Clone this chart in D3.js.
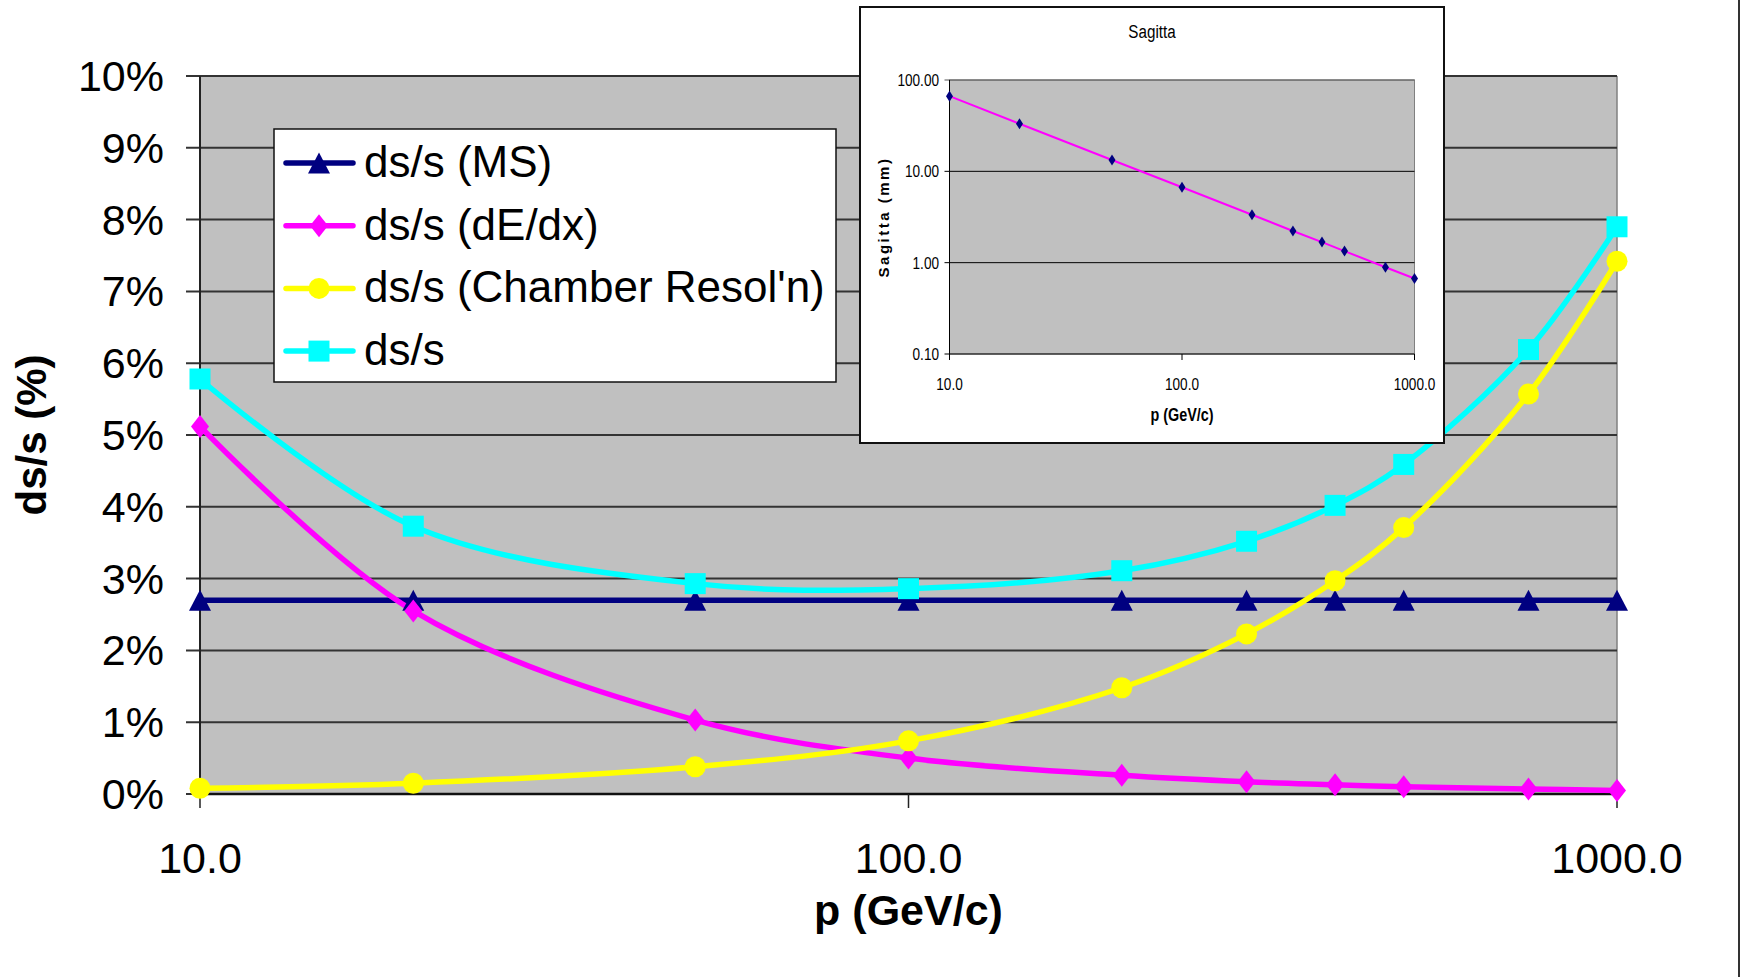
<!DOCTYPE html>
<html>
<head>
<meta charset="utf-8">
<script src="https://cdn.jsdelivr.net/npm/d3@7"></script>
<style>
  html, body { margin: 0; padding: 0; background: #ffffff; }
  svg { display: block; font-family: "Liberation Sans", Arial, sans-serif; }
</style>
</head>
<body>
<div id="chart_container"></div>
<script>
// -- DATA -- // values, momentum in GeV/c, resolutions in %
const momentum = [10, 20, 50, 100, 200, 300, 400, 500, 750, 1000];
const dsMS = [2.7, 2.7, 2.7, 2.7, 2.7, 2.7, 2.7, 2.7, 2.7, 2.7];
const dsdEdx = [5.12, 2.55, 1.03, 0.5, 0.26, 0.17, 0.13, 0.1, 0.07, 0.05];
const dsChamber = [0.08, 0.15, 0.38, 0.74, 1.48, 2.23, 2.97, 3.71, 5.57, 7.42];
const dsTotal = [5.78, 3.73, 2.93, 2.86, 3.11, 3.52, 4.02, 4.59, 6.19, 7.9];
// inset: sagitta in mm
const sagitta = [66.5, 33.2, 13.3, 6.7, 3.35, 2.22, 1.68, 1.34, 0.89, 0.67];

const seriesNames = ["ds/s (MS)", "ds/s (dE/dx)", "ds/s (Chamber Resol'n)", "ds/s"];
const yTicks = [0, 1, 2, 3, 4, 5, 6, 7, 8, 9, 10];
const xTicks = [10, 100, 1000];
const insetYTicks = [0.1, 1, 10, 100];

const series = [
  { name: seriesNames[0], values: dsMS, color: "#000080", marker: "triangle" },
  { name: seriesNames[1], values: dsdEdx, color: "#ff00ff", marker: "diamond" },
  { name: seriesNames[2], values: dsChamber, color: "#ffff00", marker: "circle" },
  { name: seriesNames[3], values: dsTotal, color: "#00ffff", marker: "square" },
];

const width = 1742;
const height = 977;

const svg = d3
  .select("#chart_container")
  .append("svg")
  .attr("width", width)
  .attr("height", height);

svg.append("rect").attr("width", width).attr("height", height).attr("fill", "white");

// -- UTILITY FUNCTIONS -- //

// marker path centred on 0,0
function markerPath(type, w, h) {
  if (type === "triangle") {
    return `M0,${-h / 2}L${w / 2},${h / 2}L${-w / 2},${h / 2}Z`;
  }
  if (type === "diamond") {
    return `M0,${-h / 2}L${w / 2},0L0,${h / 2}L${-w / 2},0Z`;
  }
  if (type === "square") {
    return `M${-w / 2},${-h / 2}h${w}v${h}h${-w}Z`;
  }
  // circle
  return d3.symbol(d3.symbolCircle, Math.PI * (w / 2) * (w / 2))();
}

function markerSize(type) {
  if (type === "diamond") return [18, 23];
  if (type === "triangle") return [22, 21];
  return [21, 21];
}

// narrow text for the small chart (it was drawn with a condensed font)
function narrowText(parent, x, y, txt, size, anchor, bold) {
  return parent
    .append("text")
    .attr("transform", `translate(${x},${y}) scale(0.8,1)`)
    .attr("text-anchor", anchor)
    .style("font-size", size + "px")
    .style("font-weight", bold ? "bold" : "normal")
    .text(txt);
}

// -- MAIN CHART -- //
const x = d3.scaleLog().domain([10, 1000]).range([200, 1617]);
const y = d3.scaleLinear().domain([0, 10]).range([794, 76]);

// grey plot area
svg
  .append("rect")
  .attr("x", x(10))
  .attr("y", y(10))
  .attr("width", x(1000) - x(10))
  .attr("height", y(0) - y(10))
  .attr("fill", "#c0c0c0");

// right border of plot area
svg
  .append("line")
  .attr("x1", x(1000))
  .attr("x2", x(1000))
  .attr("y1", y(10))
  .attr("y2", y(0))
  .attr("stroke", "#808080")
  .attr("stroke-width", 1.5);

// horizontal gridlines and left ticks
svg
  .selectAll(".grid")
  .data(yTicks)
  .enter()
  .append("line")
  .attr("class", "grid")
  .attr("x1", x(10) - 14)
  .attr("x2", x(1000))
  .attr("y1", (d) => y(d))
  .attr("y2", (d) => y(d))
  .attr("stroke", "#333")
  .attr("stroke-width", 2);

svg
  .selectAll(".ylabel")
  .data(yTicks)
  .enter()
  .append("text")
  .attr("class", "ylabel")
  .attr("x", 164)
  .attr("y", (d) => y(d) + 15)
  .attr("text-anchor", "end")
  .style("font-size", "43px")
  .text((d) => d + "%");

// y axis line
svg
  .append("line")
  .attr("x1", x(10))
  .attr("x2", x(10))
  .attr("y1", y(10))
  .attr("y2", y(0))
  .attr("stroke", "#222")
  .attr("stroke-width", 2);

// x axis line and ticks
svg
  .append("line")
  .attr("x1", x(10))
  .attr("x2", x(1000))
  .attr("y1", y(0))
  .attr("y2", y(0))
  .attr("stroke", "#111")
  .attr("stroke-width", 2.5);

svg
  .selectAll(".xtick")
  .data(xTicks)
  .enter()
  .append("line")
  .attr("class", "xtick")
  .attr("x1", (d) => x(d))
  .attr("x2", (d) => x(d))
  .attr("y1", y(0))
  .attr("y2", y(0) + 14)
  .attr("stroke", "#222")
  .attr("stroke-width", 1.5);

svg
  .selectAll(".xlabel")
  .data(xTicks)
  .enter()
  .append("text")
  .attr("class", "xlabel")
  .attr("x", (d) => x(d))
  .attr("y", 873)
  .attr("text-anchor", "middle")
  .style("font-size", "43px")
  .text((d) => d3.format(".1f")(d));

// axis titles
svg
  .append("text")
  .attr("x", (x(10) + x(1000)) / 2)
  .attr("y", 925)
  .attr("text-anchor", "middle")
  .style("font-size", "43px")
  .style("font-weight", "bold")
  .text("p (GeV/c)");

svg
  .append("text")
  .attr("transform", `translate(46,${(y(0) + y(10)) / 2}) rotate(-90)`)
  .attr("text-anchor", "middle")
  .style("font-size", "42px")
  .style("font-weight", "bold")
  .text("ds/s (%)");

// the series, smoothed like the spreadsheet did
const line = d3
  .line()
  .x((d) => x(d[0]))
  .y((d) => y(d[1]))
  .curve(d3.curveCatmullRom.alpha(0.5));

series.forEach((s) => {
  const pts = momentum.map((p, i) => [p, s.values[i]]);
  svg
    .append("path")
    .datum(pts)
    .attr("d", line)
    .attr("fill", "none")
    .attr("stroke", s.color)
    .attr("stroke-width", 5.5)
    .attr("stroke-linejoin", "round");
});

series.forEach((s) => {
  const [mw, mh] = markerSize(s.marker);
  svg
    .selectAll(".m-" + s.marker)
    .data(momentum.map((p, i) => [p, s.values[i]]))
    .enter()
    .append("path")
    .attr("class", "m-" + s.marker)
    .attr("transform", (d) => `translate(${x(d[0])},${y(d[1])})`)
    .attr("d", markerPath(s.marker, mw, mh))
    .attr("fill", s.color);
});

// -- LEGEND -- //
const legend = svg.append("g").attr("transform", "translate(274,129)");

legend
  .append("rect")
  .attr("width", 562)
  .attr("height", 253)
  .attr("fill", "white")
  .attr("stroke", "#111")
  .attr("stroke-width", 1.5);

series.forEach((s, i) => {
  const cy = 34 + i * 62.7;
  legend
    .append("line")
    .attr("x1", 12)
    .attr("x2", 79)
    .attr("y1", cy)
    .attr("y2", cy)
    .attr("stroke", s.color)
    .attr("stroke-width", 5.5)
    .attr("stroke-linecap", "round");
  const [mw, mh] = markerSize(s.marker);
  legend
    .append("path")
    .attr("transform", `translate(45,${cy})`)
    .attr("d", markerPath(s.marker, mw, mh))
    .attr("fill", s.color);
  legend
    .append("text")
    .attr("x", 90)
    .attr("y", cy + 14)
    .style("font-size", "44px")
    .text(s.name);
});

// -- INSET CHART (Sagitta) -- //
const inset = svg.append("g");

inset
  .append("rect")
  .attr("x", 860)
  .attr("y", 7)
  .attr("width", 584)
  .attr("height", 436)
  .attr("fill", "white")
  .attr("stroke", "#111")
  .attr("stroke-width", 2);

const ix = d3.scaleLog().domain([10, 1000]).range([949.5, 1414.5]);
const iy = d3.scaleLog().domain([0.1, 100]).range([354, 80]);

inset
  .append("rect")
  .attr("x", ix(10))
  .attr("y", iy(100))
  .attr("width", ix(1000) - ix(10))
  .attr("height", iy(0.1) - iy(100))
  .attr("fill", "#c0c0c0")
  .attr("stroke", "#808080")
  .attr("stroke-width", 1);

inset
  .selectAll(".igrid")
  .data(insetYTicks)
  .enter()
  .append("line")
  .attr("class", "igrid")
  .attr("x1", ix(10) - 5)
  .attr("x2", ix(1000))
  .attr("y1", (d) => iy(d))
  .attr("y2", (d) => iy(d))
  .attr("stroke", (d) => (d === 100 ? "#555" : "#000"))
  .attr("stroke-width", 1);

inset
  .append("line")
  .attr("x1", ix(10))
  .attr("x2", ix(10))
  .attr("y1", iy(100))
  .attr("y2", iy(0.1))
  .attr("stroke", "#000")
  .attr("stroke-width", 1);

inset
  .selectAll(".ixtick")
  .data(xTicks)
  .enter()
  .append("line")
  .attr("class", "ixtick")
  .attr("x1", (d) => ix(d))
  .attr("x2", (d) => ix(d))
  .attr("y1", iy(0.1))
  .attr("y2", iy(0.1) + 6)
  .attr("stroke", "#000")
  .attr("stroke-width", 1);

insetYTicks.forEach((d) => {
  narrowText(inset, 939, iy(d) + 6, d3.format(".2f")(d), 17, "end", false);
});
xTicks.forEach((d) => {
  narrowText(inset, ix(d), 390, d3.format(".1f")(d), 17, "middle", false);
});
narrowText(inset, 1152, 38, "Sagitta", 19, "middle", false);
narrowText(inset, (ix(10) + ix(1000)) / 2, 421, "p (GeV/c)", 18, "middle", true);

inset
  .append("text")
  .attr("transform", `translate(889,${(iy(0.1) + iy(100)) / 2}) rotate(-90)`)
  .attr("text-anchor", "middle")
  .style("font-size", "15px")
  .style("font-weight", "bold")
  .style("letter-spacing", "2.5px")
  .text("Sagitta (mm)");

const iline = d3
  .line()
  .x((d) => ix(d[0]))
  .y((d) => iy(d[1]));

const ipts = momentum.map((p, i) => [p, sagitta[i]]);

inset
  .append("path")
  .datum(ipts)
  .attr("d", iline)
  .attr("fill", "none")
  .attr("stroke", "#ff00ff")
  .attr("stroke-width", 2);

inset
  .selectAll(".idiamond")
  .data(ipts)
  .enter()
  .append("path")
  .attr("class", "idiamond")
  .attr("transform", (d) => `translate(${ix(d[0])},${iy(d[1])})`)
  .attr("d", markerPath("diamond", 7, 11))
  .attr("fill", "#000080");

// outer frame edge on the right
svg
  .append("line")
  .attr("x1", 1739)
  .attr("x2", 1739)
  .attr("y1", 0)
  .attr("y2", height)
  .attr("stroke", "#333")
  .attr("stroke-width", 2);
</script>
</body>
</html>
